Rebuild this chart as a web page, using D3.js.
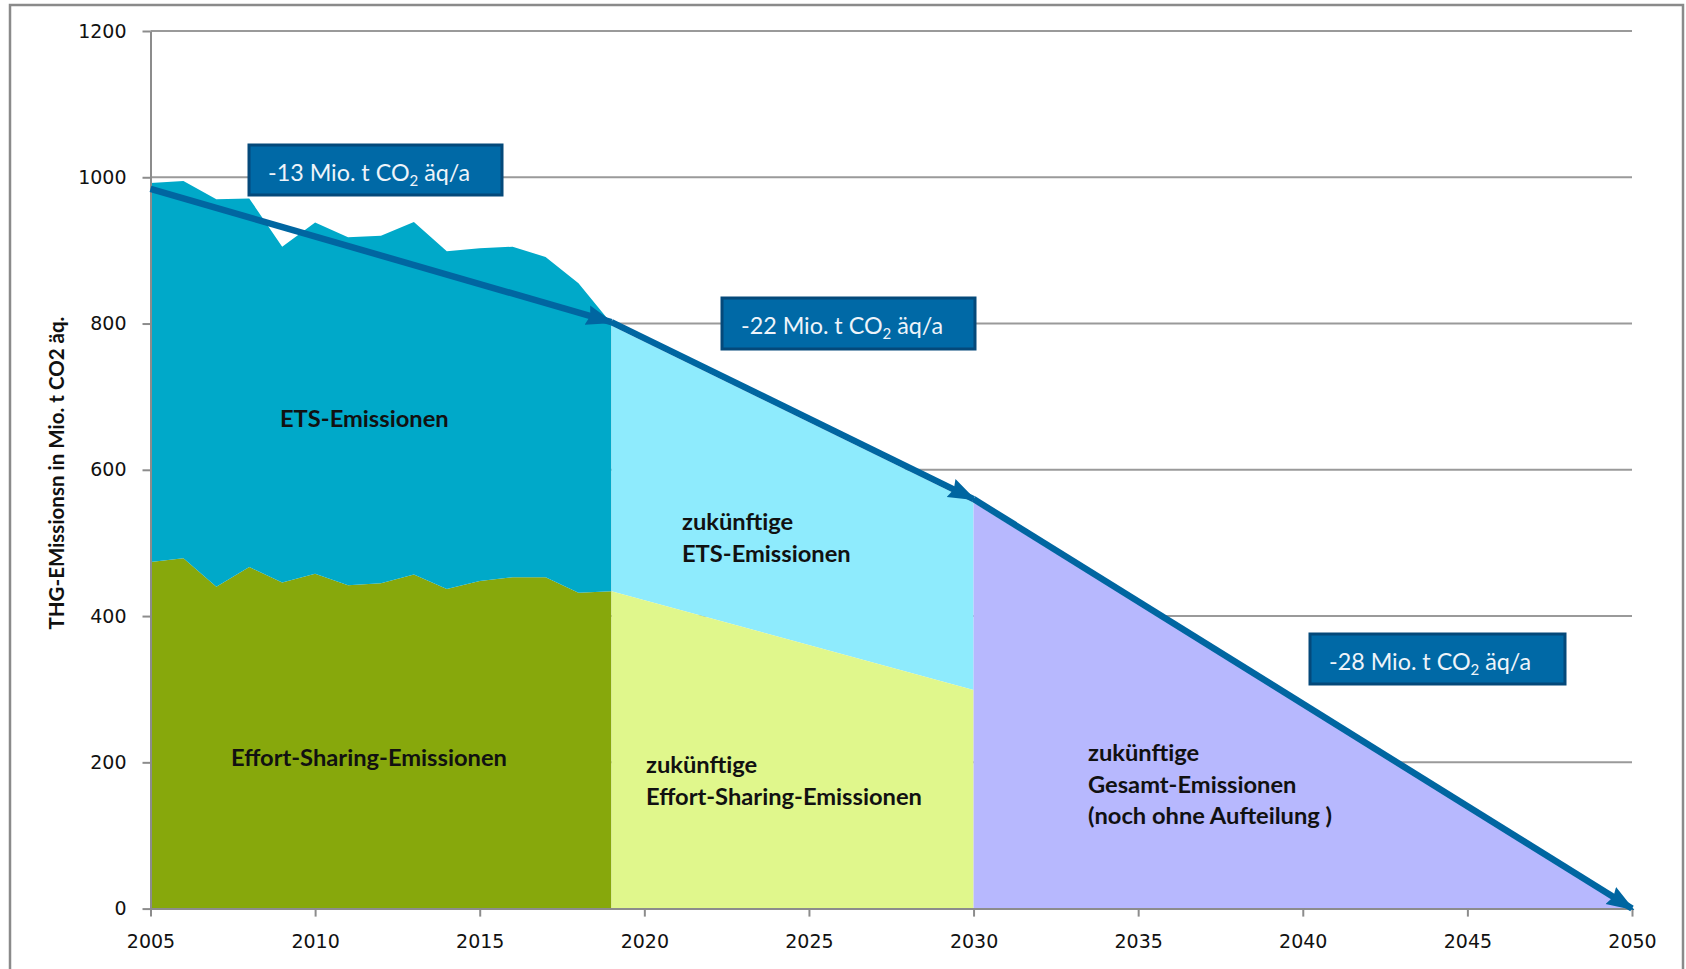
<!DOCTYPE html>
<html>
<head>
<meta charset="utf-8">
<script src="https://cdn.jsdelivr.net/npm/d3@7"></script>
<style>
  html, body { margin: 0; padding: 0; background: #fff; }
  svg { display: block; }
</style>
</head>
<body>
<script>
// Historic emissions 2005–2019 (Mio. t CO2 äq.)
const histYears = [2005, 2006, 2007, 2008, 2009, 2010, 2011, 2012, 2013, 2014, 2015, 2016, 2017, 2018, 2019];
const histEffortSharing = [474, 479, 440, 467, 446, 458, 442, 445, 457, 437, 448, 453, 453, 432, 434];
const histEts = [518, 516, 530, 504, 459, 480, 476, 475, 482, 462, 455, 452, 438, 423, 366];

// Future pathway 2019–2030, split into ETS and effort sharing
const futureYears = [2019, 2030];
const futureEffortSharing = [434, 299];
const futureTotal = [797, 555];

// Future pathway 2030–2050, total only
const lateYears = [2030, 2050];
const lateTotal = [555, 0];

// Reduction trend arrows: annual rates per period
const trendStartValue = 984;
const trendFrom = [2005, 2019, 2030];
const trendTo = [2019, 2030, 2050];
const trendRates = [-13, -22, -28];

// Axis ticks
const yTicks = [0, 200, 400, 600, 800, 1000, 1200];
const xTicks = [2005, 2010, 2015, 2020, 2025, 2030, 2035, 2040, 2045, 2050];

const W = 1686, H = 969;
const colors = {
  ets: "#00A9C9",
  es: "#87A80C",
  futureEts: "#8EEBFD",
  futureEs: "#E0F78C",
  late: "#B7B8FE",
  arrow: "#0066A1",
  boxFill: "#0069A6",
  boxStroke: "#04497A",
  grid: "#9a9a9a",
  axis: "#8c8c8c"
};
const calibriLike = "Lato, 'Open Sans', sans-serif";

const svg = d3.select("body").append("svg").attr("width", W).attr("height", H);

// outer frame
svg.append("rect")
  .attr("x", 10).attr("y", 5).attr("width", 1673).attr("height", 990)
  .attr("fill", "#fff").attr("stroke", "#8a8a8a").attr("stroke-width", 2.5);

const x = d3.scaleLinear().domain([2005, 2050]).range([150.5, 1632]);
const y = d3.scaleLinear().domain([0, 1200]).range([908.6, 31]);

// horizontal gridlines
svg.append("g").selectAll("line")
  .data(yTicks.filter(v => v > 0))
  .join("line")
  .attr("x1", x(2005)).attr("x2", x(2050))
  .attr("y1", d => y(d)).attr("y2", d => y(d))
  .attr("stroke", colors.grid).attr("stroke-width", 2);

// historic stacked areas
const histRows = histYears.map((yr, i) => ({ year: yr, es: histEffortSharing[i], ets: histEts[i] }));
const stack = d3.stack().keys(["es", "ets"])(histRows);
const stackArea = d3.area()
  .x(d => x(d.data.year))
  .y0(d => y(d[0]))
  .y1(d => y(d[1]));
svg.append("g").selectAll("path")
  .data(stack)
  .join("path")
  .attr("d", stackArea)
  .attr("fill", d => d.key === "es" ? colors.es : colors.ets);

// future areas 2019–2030
const futRows = futureYears.map((yr, i) => ({ year: yr, es: futureEffortSharing[i], total: futureTotal[i] }));
svg.append("path")
  .datum(futRows)
  .attr("fill", colors.futureEts)
  .attr("d", d3.area().x(d => x(d.year)).y0(d => y(d.es)).y1(d => y(d.total)));
svg.append("path")
  .datum(futRows)
  .attr("fill", colors.futureEs)
  .attr("d", d3.area().x(d => x(d.year)).y0(y(0)).y1(d => y(d.es)));

// future total 2030–2050
const lateRows = lateYears.map((yr, i) => ({ year: yr, total: lateTotal[i] }));
svg.append("path")
  .datum(lateRows)
  .attr("fill", colors.late)
  .attr("d", d3.area().x(d => x(d.year)).y0(y(0)).y1(d => y(d.total)));

// axes
const yAxis = svg.append("g")
  .attr("transform", `translate(${x(2005)},0)`)
  .call(d3.axisLeft(y).tickValues(yTicks).tickFormat(d3.format("d")).tickSize(8).tickSizeOuter(0).tickPadding(16));
const xAxis = svg.append("g")
  .attr("transform", `translate(0,${y(0)})`)
  .call(d3.axisBottom(x).tickValues(xTicks).tickFormat(d3.format("d")).tickSize(8).tickSizeOuter(0).tickPadding(18));
[yAxis, xAxis].forEach(g => {
  g.select(".domain").attr("stroke", colors.axis).attr("stroke-width", 2);
  g.selectAll(".tick line").attr("stroke", colors.axis).attr("stroke-width", 2);
  g.selectAll(".tick text")
    .attr("fill", "#111")
    .style("font-family", "'DejaVu Sans', Verdana, sans-serif")
    .style("font-size", "19px");
});

// y axis title
svg.append("text")
  .attr("transform", `translate(64,473) rotate(-90)`)
  .attr("text-anchor", "middle")
  .style("font-family", calibriLike)
  .style("font-weight", "bold")
  .style("font-size", "20.5px")
  .attr("fill", "#111")
  .text("THG-EMissionsn in Mio. t CO2 äq.");

// trend arrows, chained from the start value with the annual rates
const defs = svg.append("defs");
defs.append("marker")
  .attr("id", "head")
  .attr("markerUnits", "userSpaceOnUse")
  .attr("viewBox", "0 0 28 22")
  .attr("refX", 25).attr("refY", 11)
  .attr("markerWidth", 28).attr("markerHeight", 22)
  .attr("orient", "auto")
  .append("path")
  .attr("d", "M0,1 L28,11 L0,21 L3,11 Z")
  .attr("fill", colors.arrow);

let v = trendStartValue;
const trends = trendFrom.map((f, i) => {
  const t = trendTo[i];
  const v0 = v;
  const v1 = v0 + trendRates[i] * (t - f);
  v = v1;
  return { f, t, v0, v1, rate: trendRates[i] };
});
svg.append("g").selectAll("line")
  .data(trends)
  .join("line")
  .attr("x1", d => x(d.f)).attr("y1", d => y(d.v0))
  .attr("x2", d => x(d.t)).attr("y2", d => y(d.v1))
  .attr("stroke", colors.arrow)
  .attr("stroke-width", 6.5)
  .attr("marker-end", "url(#head)");

// rate boxes
const boxLayout = [
  { x: 249, y: 145, w: 253, h: 50 },
  { x: 722, y: 298, w: 253, h: 51 },
  { x: 1310, y: 634, w: 255, h: 50 }
];
const boxes = svg.append("g").selectAll("g")
  .data(trends)
  .join("g")
  .attr("transform", (d, i) => `translate(${boxLayout[i].x},${boxLayout[i].y})`);
boxes.append("rect")
  .attr("width", (d, i) => boxLayout[i].w)
  .attr("height", (d, i) => boxLayout[i].h)
  .attr("fill", colors.boxFill)
  .attr("stroke", colors.boxStroke)
  .attr("stroke-width", 3);
const bt = boxes.append("text")
  .attr("x", 19).attr("y", 36)
  .attr("fill", "#eef4fa")
  .style("font-family", calibriLike)
  .style("font-size", "23.3px");
bt.append("tspan").text(d => `${d.rate} Mio. t CO`);
bt.append("tspan").attr("dy", 5).style("font-size", "15px").text("2");
bt.append("tspan").attr("dy", -5).text(" äq/a");

// area captions
const captions = [
  { lines: ["ETS-Emissionen"], x: 280, y: 427 },
  { lines: ["Effort-Sharing-Emissionen"], x: 231, y: 766 },
  { lines: ["zukünftige", "ETS-Emissionen"], x: 682, y: 530 },
  { lines: ["zukünftige", "Effort-Sharing-Emissionen"], x: 646, y: 773 },
  { lines: ["zukünftige", "Gesamt-Emissionen", "(noch ohne Aufteilung )"], x: 1088, y: 761 }
];
const cap = svg.append("g").selectAll("text")
  .data(captions)
  .join("text")
  .attr("x", d => d.x).attr("y", d => d.y)
  .attr("fill", "#111")
  .style("font-family", calibriLike)
  .style("font-weight", "bold")
  .style("font-size", "23.7px");
cap.selectAll("tspan")
  .data(d => d.lines.map((l, i) => ({ l, i, x: d.x })))
  .join("tspan")
  .attr("x", d => d.x)
  .attr("dy", d => d.i === 0 ? 0 : 31.5)
  .text(d => d.l);
</script>
</body>
</html>
